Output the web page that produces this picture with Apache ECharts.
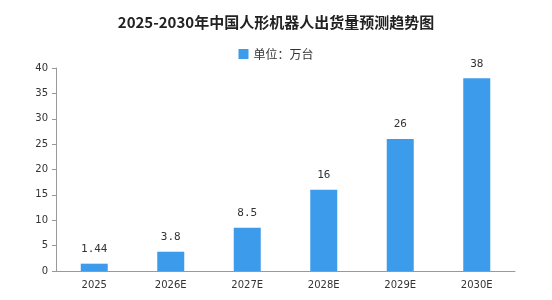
<!DOCTYPE html>
<html>
<head>
<meta charset="utf-8">
<script src="https://cdn.jsdelivr.net/npm/echarts@6/dist/echarts.min.js"></script>
<style>html,body{margin:0;padding:0;background:#fff}#main{width:552px;height:300px}</style>
</head>
<body>
<div id="main"></div>
<script>
var years = ['2025', '2026E', '2027E', '2028E', '2029E', '2030E'];
var shipments = [1.44, 3.8, 8.5, 16, 26, 38];
var yTicks = { min: 0, max: 40, interval: 5 };

var myChart = echarts.init(document.getElementById('main'));
var option = {
    animation: false,
    title: {
        text: '2025-2030年中国人形机器人出货量预测趋势图',
        left: 'center',
        top: 10,
        textStyle: {
            fontFamily: 'Noto Sans CJK SC',
            fontSize: 15,
            fontWeight: 'bold',
            color: '#222'
        }
    },
    legend: {
        data: [{ name: '单位：万台', icon: 'rect' }],
        top: 43,
        left: 'center',
        itemWidth: 10,
        itemHeight: 10,
        itemGap: 4,
        textStyle: { fontFamily: 'Noto Sans CJK SC', fontSize: 12, color: '#333' }
    },
    grid: { left: 56, right: 37, top: 68, bottom: 29 },
    xAxis: {
        type: 'category',
        data: years,
        axisLine: { lineStyle: { color: '#999' } },
        axisTick: { lineStyle: { color: '#999' } },
        axisLabel: { color: '#333', fontSize: 10, margin: 9, fontFamily: 'DejaVu Sans' }
    },
    yAxis: {
        type: 'value',
        min: yTicks.min,
        max: yTicks.max,
        interval: yTicks.interval,
        splitLine: { show: false },
        axisLine: { show: true, lineStyle: { color: '#999' } },
        axisTick: { show: true, length: 4, lineStyle: { color: '#999' } },
        axisLabel: { color: '#333', fontSize: 10, margin: 8, fontFamily: 'DejaVu Sans' }
    },
    series: [{
        name: '单位：万台',
        type: 'bar',
        data: shipments,
        barWidth: 27,
        itemStyle: { color: '#3D9BEC' },
        label: {
            show: true,
            position: 'top',
            distance: 9,
            color: '#333',
            fontSize: 11,
            fontFamily: 'DejaVu Sans Mono'
        }
    }]
};
myChart.setOption(option);
</script>
</body>
</html>
